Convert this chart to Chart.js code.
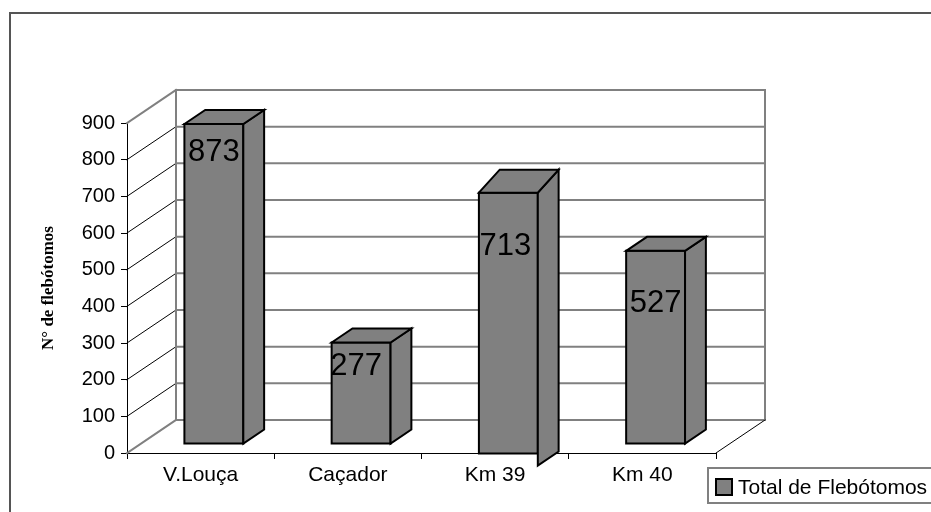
<!DOCTYPE html>
<html><head><meta charset="utf-8">
<script src="https://cdn.jsdelivr.net/npm/chart.js@4"></script>
<style>html,body{margin:0;padding:0;background:#fff}canvas{display:block}</style>
</head><body>
<canvas id="c" width="931" height="512"></canvas>
<script>
// ---- data ----
const categories = ['V.Louça', 'Caçador', 'Km 39', 'Km 40'];
const totals = [873, 277, 713, 527];
const seriesName = 'Total de Flebótomos';
const yTicks = [0, 100, 200, 300, 400, 500, 600, 700, 800, 900];
const yAxisTitle = 'N° de flebótomos';

// ---- styles ----
const DEPTH = { dx: 49, dy: -33 };          // floor depth vector (back wall offset)
const BAR_DEPTH = { front: 0.27, back: 0.695 }; // bar front/back as fraction of depth
const BAR_FILL = '#808080';
const labelOffsets = [{dx: 0, dy: 28}, {dx: -5, dy: 24}, {dx: -3, dy: 54}, {dx: 0, dy: 53}];
const barQuirks = [null, null, {shiftY: 10, topDy: -23, sideDrop: 12}, null];
const SANS = '"Liberation Sans", Arial, sans-serif';

function line(ctx, x1, y1, x2, y2) { ctx.beginPath(); ctx.moveTo(x1, y1); ctx.lineTo(x2, y2); ctx.stroke(); }
function poly(ctx, pts) {
  ctx.beginPath(); ctx.moveTo(pts[0][0], pts[0][1]);
  for (let i = 1; i < pts.length; i++) ctx.lineTo(pts[i][0], pts[i][1]);
  ctx.closePath(); ctx.fill(); ctx.stroke();
}

const threeD = {
  id: 'threeD',
  beforeDraw(chart) {
    const ctx = chart.ctx;
    ctx.save();
    ctx.strokeStyle = '#555'; ctx.lineWidth = 2;
    ctx.beginPath(); ctx.moveTo(10, 512); ctx.lineTo(10, 13); ctx.lineTo(931, 13); ctx.stroke();
    ctx.restore();
  },
  beforeDatasetsDraw(chart) {
    const {ctx, chartArea: a, scales: {y}} = chart;
    const {dx, dy} = DEPTH;
    ctx.save();
    ctx.lineCap = 'square';
    yTicks.forEach((v, i) => {
      const py = y.getPixelForValue(v);
      const edge = (i === 0 || i === yTicks.length - 1);
      ctx.strokeStyle = edge ? '#808080' : '#000';
      ctx.lineWidth = edge ? 2 : 1;
      line(ctx, a.left, py, a.left + dx, py + dy);
      ctx.strokeStyle = '#808080'; ctx.lineWidth = 2;
      line(ctx, a.left + dx, py + dy, a.right + dx, py + dy);
    });
    ctx.strokeStyle = '#808080'; ctx.lineWidth = 2;
    line(ctx, a.left + dx, a.top + dy, a.left + dx, a.bottom + dy);
    line(ctx, a.right + dx, a.top + dy, a.right + dx, a.bottom + dy);
    ctx.strokeStyle = '#000'; ctx.lineWidth = 1;
    line(ctx, a.right, a.bottom, a.right + dx, a.bottom + dy);
    ctx.restore();
  },
  afterDatasetsDraw(chart) {
    const {ctx} = chart;
    const meta = chart.getDatasetMeta(0);
    const fx = BAR_DEPTH.front * DEPTH.dx, fy = BAR_DEPTH.front * DEPTH.dy;
    const bdx = (BAR_DEPTH.back - BAR_DEPTH.front) * DEPTH.dx;
    const bdy = (BAR_DEPTH.back - BAR_DEPTH.front) * DEPTH.dy;
    ctx.save();
    ctx.fillStyle = BAR_FILL; ctx.strokeStyle = '#000'; ctx.lineWidth = 2; ctx.lineJoin = 'miter';
    meta.data.forEach((el, i) => {
      const p = el.getProps(['x', 'y', 'base', 'width'], true);
      const q = barQuirks[i] || {shiftY: 0, topDy: bdy, sideDrop: 0};
      const L = p.x - p.width / 2 + fx, R = p.x + p.width / 2 + fx;
      const T = p.y + fy + q.shiftY, B = p.base + fy + q.shiftY;
      // front
      ctx.beginPath(); ctx.rect(L, T, R - L, B - T); ctx.fill(); ctx.stroke();
      // side
      poly(ctx, [[R, T], [R + bdx, T + q.topDy], [R + bdx, B + q.sideDrop + bdy], [R, B + q.sideDrop]]);
      // top
      poly(ctx, [[L, T], [L + bdx, T + q.topDy], [R + bdx, T + q.topDy], [R, T]]);
      // label
      const o = labelOffsets[i];
      ctx.save();
      ctx.fillStyle = '#000'; ctx.font = '31px ' + SANS;
      ctx.textAlign = 'center'; ctx.textBaseline = 'middle';
      ctx.fillText(String(chart.data.datasets[0].data[i]), (L + R) / 2 + o.dx, T + o.dy);
      ctx.restore();
    });
    ctx.restore();
  },
  afterDraw(chart) {
    const {ctx} = chart;
    ctx.save();
    ctx.strokeStyle = '#808080'; ctx.lineWidth = 2;
    ctx.strokeRect(708, 468, 260, 35);
    ctx.fillStyle = BAR_FILL; ctx.strokeStyle = '#000'; ctx.lineWidth = 2;
    ctx.fillRect(716, 479, 16, 16); ctx.strokeRect(716, 479, 16, 16);
    ctx.fillStyle = '#000'; ctx.font = '21px ' + SANS;
    ctx.textAlign = 'left'; ctx.textBaseline = 'middle';
    ctx.fillText(chart.data.datasets[0].label, 738, 488);
    ctx.restore();
  }
};

new Chart(document.getElementById('c'), {
  type: 'bar',
  data: {
    labels: categories,
    datasets: [{
      label: seriesName, data: totals,
      backgroundColor: 'rgba(0,0,0,0)', borderWidth: 0,
      barPercentage: 0.4, categoryPercentage: 1
    }]
  },
  options: {
    responsive: false, animation: false, devicePixelRatio: 1,
    layout: { padding: { left: 34, right: 215, top: 123, bottom: 24 } },
    plugins: { legend: { display: false }, tooltip: { enabled: false } },
    scales: {
      x: {
        grid: { drawOnChartArea: false, drawTicks: true, tickLength: 6, color: '#000', offset: true },
        border: { display: true, color: '#000', width: 1 },
        ticks: { color: '#000', font: { family: SANS, size: 21 }, padding: 4, maxRotation: 0, autoSkip: false },
        afterFit: s => { s.height = 35; }
      },
      y: {
        min: yTicks[0], max: yTicks[yTicks.length - 1],
        ticks: { stepSize: yTicks[1] - yTicks[0], color: '#000', font: { family: SANS, size: 20 }, padding: 6 },
        grid: { drawOnChartArea: false, drawTicks: true, tickLength: 6, color: '#000' },
        border: { display: true, color: '#000', width: 1 },
        title: { display: true, text: yAxisTitle, color: '#000',
                 font: { family: '"Liberation Serif", "Times New Roman", serif', weight: 'bold', size: 17 },
                 padding: { top: 4, bottom: 0 } },
        afterFit: s => { s.width = 93; }
      }
    }
  },
  plugins: [threeD]
});
</script>
</body></html>
